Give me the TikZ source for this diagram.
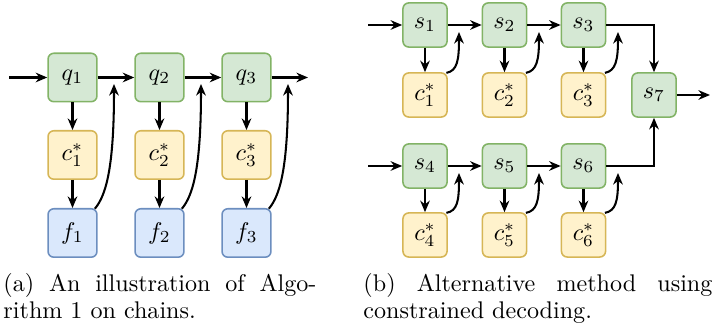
\documentclass[tikz,border=0pt]{standalone}
\usetikzlibrary{arrows.meta}
\definecolor{gfill}{HTML}{D5E8D4}
\definecolor{gline}{HTML}{82B366}
\definecolor{yfill}{HTML}{FFF2CC}
\definecolor{yline}{HTML}{D6B656}
\definecolor{bfill}{HTML}{DAE8FC}
\definecolor{bline}{HTML}{6C8EBF}
\begin{document}
\begin{tikzpicture}[x=0.415pt,y=-0.415pt,
  box/.style={draw, rounded corners=2.4pt, line width=0.65pt, inner sep=0pt,
    font=\fontsize{10}{12}\selectfont},
  boxa/.style={box, minimum width=20.3pt, minimum height=20.1pt},
  boxb/.style={box, minimum width=18.3pt, minimum height=18.3pt},
  gbox/.style={draw=gline, fill=gfill},
  ybox/.style={draw=yline, fill=yfill},
  bbox/.style={draw=bline, fill=bfill},
  arr/.style={-{Stealth[length=4.8pt,width=4pt]}, line width=0.85pt},
  captxt/.style={anchor=base west, inner sep=0pt, font=\fontsize{10}{12}\selectfont}]
\useasboundingbox (0,0) rectangle (717,332);

% ---------- panel (a) ----------
\node[boxa,gbox] (q1) at (72.5,77.5) {$q_1$};
\node[boxa,gbox] (q2) at (159.5,77.5) {$q_2$};
\node[boxa,gbox] (q3) at (246.5,77.5) {$q_3$};
\node[boxa,ybox] (ca1) at (72.5,155) {$c_1^*$};
\node[boxa,ybox] (ca2) at (159.5,155) {$c_2^*$};
\node[boxa,ybox] (ca3) at (246.5,155) {$c_3^*$};
\node[boxa,bbox] (f1) at (72.5,233) {$f_1$};
\node[boxa,bbox] (f2) at (159.5,233) {$f_2$};
\node[boxa,bbox] (f3) at (246.5,233) {$f_3$};

\coordinate (ain) at (9,77.5);
\coordinate (aout) at (308,77.5);
\coordinate (ta1) at (114,84);
\coordinate (ta2) at (201,84);
\coordinate (ta3) at (288,84);

\draw[arr] (ain) -- (q1);
\draw[arr] (q1) -- (q2);
\draw[arr] (q2) -- (q3);
\draw[arr] (q3) -- (aout);
\foreach \i in {1,2,3}{
  \draw[arr] (q\i) -- (ca\i);
  \draw[arr] (ca\i) -- (f\i);
  \draw[arr] ([xshift=-1.2pt,yshift=-0.3pt]f\i.north east)
     .. controls +(12,-14) and +(0,80) .. (ta\i);
}

% ---------- panel (b) ----------
\node[boxb,gbox] (s1) at (425,25) {$s_1$};
\node[boxb,gbox] (s2) at (504.5,25) {$s_2$};
\node[boxb,gbox] (s3) at (583.5,25) {$s_3$};
\node[boxb,ybox] (c1) at (425,95) {$c_1^*$};
\node[boxb,ybox] (c2) at (504.5,95) {$c_2^*$};
\node[boxb,ybox] (c3) at (583.5,95) {$c_3^*$};
\node[boxb,gbox] (s4) at (425,166) {$s_4$};
\node[boxb,gbox] (s5) at (504.5,166) {$s_5$};
\node[boxb,gbox] (s6) at (583.5,166) {$s_6$};
\node[boxb,ybox] (c4) at (425,235) {$c_4^*$};
\node[boxb,ybox] (c5) at (504.5,235) {$c_5^*$};
\node[boxb,ybox] (c6) at (583.5,235) {$c_6^*$};
\node[boxb,gbox] (s7) at (654,95) {$s_7$};

\coordinate (bin1) at (368,25);
\coordinate (bin2) at (368,166);
\coordinate (bout) at (710,95);
\coordinate (tb1) at (459,32);
\coordinate (tb2) at (539,32);
\coordinate (tb3) at (618,32);
\coordinate (tb4) at (459,173);
\coordinate (tb5) at (539,173);
\coordinate (tb6) at (618,173);

\draw[arr] (bin1) -- (s1);
\draw[arr] (s1) -- (s2);
\draw[arr] (s2) -- (s3);
\draw[arr] (bin2) -- (s4);
\draw[arr] (s4) -- (s5);
\draw[arr] (s5) -- (s6);
\draw[arr] (s3.east) -| (s7.north);
\draw[arr] (s6.east) -| (s7.south);
\draw[arr] (s7) -- (bout);
\foreach \i in {1,...,6}{
  \draw[arr] (s\i) -- (c\i);
  \draw[arr] ([xshift=-0.6pt,yshift=-0.3pt]c\i.north east)
     .. controls +(11,-2) and +(0,28) .. (tb\i);
}

% ---------- captions ----------
\node[captxt] (capa1) at (3,292) {\makebox[129.9pt][s]{(a) An illustration of Algo-}};
\node[captxt] (capa2) at (3,319) {rithm 1 on chains.};
\node[captxt] (capb1) at (363,292) {\makebox[144.8pt][s]{(b) Alternative method using}};
\node[captxt] (capb2) at (363,319) {constrained decoding.};
\end{tikzpicture}
\end{document}
